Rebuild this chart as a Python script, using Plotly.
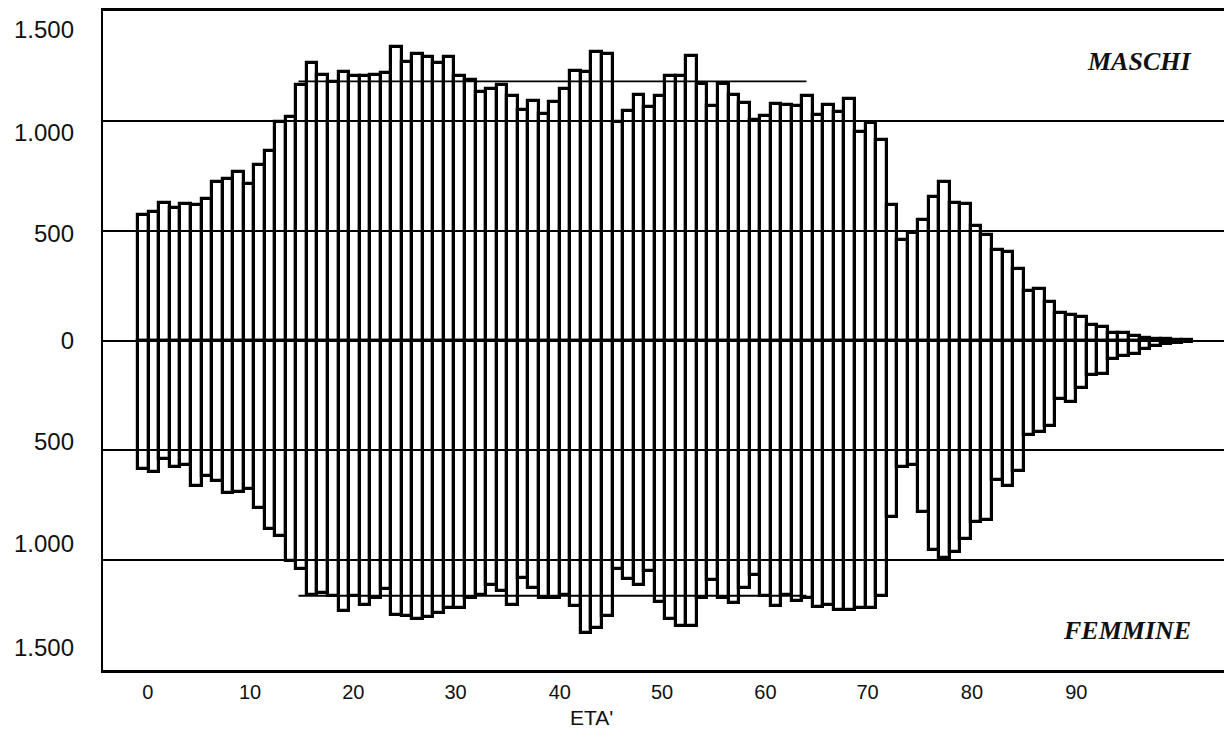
import plotly.graph_objects as go

# --- data -------------------------------------------------------------
ages = list(range(100))

maschi = [572, 583, 628, 603, 621, 618, 643, 720, 735, 769,
          711, 799, 862, 995, 1018, 1161, 1262, 1209, 1179, 1222,
          1202, 1202, 1207, 1217, 1335, 1270, 1305, 1290, 1262, 1290,
          1202, 1187, 1131, 1146, 1161, 1111, 1051, 1089, 1033, 1086,
          1146, 1225, 1222, 1315, 1305, 995, 1044, 1116, 1063, 1111,
          1202, 1202, 1297, 1169, 1066, 1169, 1116, 1081, 1006, 1021,
          1078, 1071, 1066, 1111, 1026, 1071, 1041, 1101, 950, 991,
          912, 618, 459, 489, 547, 652, 720, 625, 622, 522,
          480, 410, 405, 325, 225, 235, 175, 125, 115, 107,
          70, 62, 36, 33, 20, 13, 8, 5, 3, 2]

femmine = [586, 598, 541, 575, 565, 662, 616, 640, 692, 689,
           677, 764, 858, 888, 1003, 1039, 1157, 1149, 1164, 1232,
           1164, 1205, 1172, 1130, 1248, 1255, 1270, 1260, 1240, 1220,
           1217, 1172, 1157, 1115, 1139, 1205, 1081, 1127, 1172, 1172,
           1157, 1210, 1331, 1308, 1255, 1039, 1084, 1112, 1051, 1190,
           1270, 1300, 1300, 1172, 1089, 1172, 1195, 1127, 1066, 1164,
           1210, 1157, 1184, 1172, 1214, 1205, 1225, 1225, 1217, 1220,
           1164, 802, 575, 568, 779, 953, 991, 961, 903, 828,
           817, 636, 662, 595, 430, 418, 388, 268, 278, 218,
           155, 152, 83, 72, 63, 38, 23, 15, 12, 8]

# reference lines drawn across the central ages
ref_ages = [14.7, 62.9]
ref_maschi = 1180
ref_femmine = 1162

# x tick labels, placed where the original printed them
x_tickpos = [0.4, 10.1, 19.9, 29.6, 39.5, 49.2, 59.0, 68.7, 78.6, 88.5]
x_ticktext = ["0", "10", "20", "30", "40", "50", "60", "70", "80", "90"]

grid_vals = [-1000, -500, 0, 500, 1000]
# y tick labels as printed on the original (slightly off the grid lines)
ylabel_vals = [1414, 947, 485, 0, -462, -924, -1396]
ylabel_text = ["1.500", "1.000", "500", "0", "500", "1.000", "1.500"]

# --- figure -----------------------------------------------------------
fig = go.Figure()

bar_style = dict(color="rgba(0,0,0,0)", line=dict(color="black", width=3.2))

fig.add_trace(go.Bar(x=ages, y=maschi, width=1.0, marker=bar_style,
                     name="MASCHI", showlegend=False))
fig.add_trace(go.Bar(x=ages, y=[-v for v in femmine], width=1.0, marker=bar_style,
                     name="FEMMINE", showlegend=False))

fig.add_trace(go.Scatter(x=ref_ages, y=[ref_maschi, ref_maschi], mode="lines",
                         line=dict(color="black", width=1.8), showlegend=False,
                         hoverinfo="skip", yaxis="y2"))
fig.add_trace(go.Scatter(x=ref_ages, y=[-ref_femmine, -ref_femmine], mode="lines",
                         line=dict(color="black", width=1.8), showlegend=False,
                         hoverinfo="skip", yaxis="y2"))

fig.update_layout(
    width=1224, height=732,
    margin=dict(l=95, r=5, t=0, b=70),
    paper_bgcolor="white", plot_bgcolor="white",
    barmode="relative", bargap=0,
    font=dict(family="Liberation Sans, Arial, sans-serif", color="#111"),
    xaxis=dict(range=[-3.85, 102.8], tickvals=x_tickpos, ticktext=x_ticktext,
               showgrid=False, zeroline=False, showline=True, mirror=True,
               linecolor="black", linewidth=2.5, ticks="",
               tickfont=dict(size=20), ticklabelstandoff=2),
    yaxis=dict(range=[-1500, 1500], tickvals=grid_vals, showticklabels=False,
               showgrid=True, gridcolor="black", gridwidth=1.6,
               zeroline=True, zerolinecolor="black", zerolinewidth=2,
               showline=True, mirror=True, linecolor="black", linewidth=2,
               ticks=""),
    yaxis2=dict(range=[-1500, 1500], overlaying="y", side="left",
                tickvals=ylabel_vals, ticktext=ylabel_text,
                showgrid=False, zeroline=False, showline=False, ticks="",
                tickfont=dict(size=24), ticklabelstandoff=28),
    annotations=[
        dict(text="<b><i>MASCHI</i></b>", xref="paper", yref="paper",
             x=0.970, y=0.924, xanchor="right", yanchor="middle", showarrow=False,
             font=dict(family="Liberation Serif, Times New Roman, serif", size=26,
                       color="#111")),
        dict(text="<b><i>FEMMINE</i></b>", xref="paper", yref="paper",
             x=0.970, y=0.060, xanchor="right", yanchor="middle", showarrow=False,
             font=dict(family="Liberation Serif, Times New Roman, serif", size=26,
                       color="#111")),
        dict(text="ETA'", xref="paper", yref="paper", x=0.435, y=-0.0725,
             xanchor="center", yanchor="middle", showarrow=False,
             font=dict(size=21, color="#111")),
    ],
)

fig.write_html("out.html")
